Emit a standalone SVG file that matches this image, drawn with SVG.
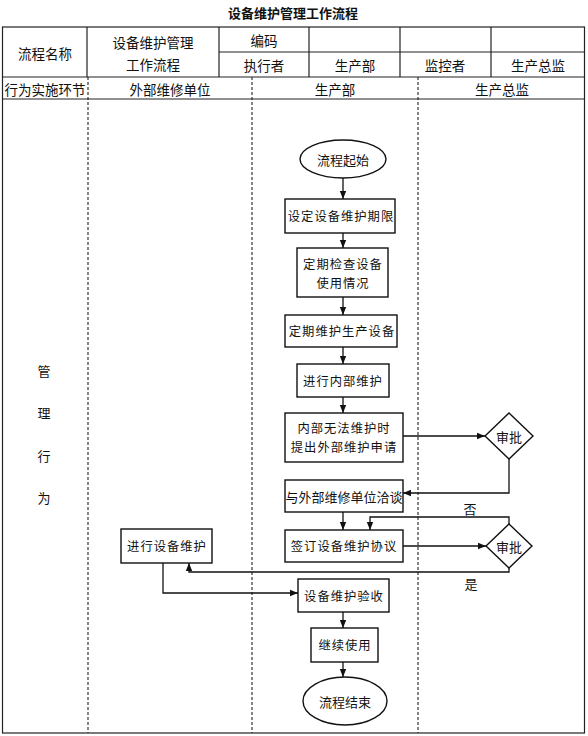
<svg xmlns="http://www.w3.org/2000/svg" width="588" height="736" viewBox="0 0 588 736">
<style>
text{font-family:"Noto Sans CJK SC","Liberation Sans",sans-serif;font-size:13px;fill:#111;text-anchor:middle;dominant-baseline:central}
.t{font-weight:bold;font-size:13px}
.h{font-size:13.5px}
.box{fill:#fff;stroke:#111;stroke-width:1.4}
.grid{stroke:#222;stroke-width:1.2;fill:none}
.dash{stroke:#222;stroke-width:1.1;stroke-dasharray:3 2;fill:none}
.c{stroke:#111;stroke-width:1.3;fill:none}
.sp{letter-spacing:1px;font-size:12.3px}
</style>
<defs>
<marker id="ah" viewBox="0 0 10 10" refX="10" refY="5" markerWidth="9" markerHeight="8" markerUnits="userSpaceOnUse" orient="auto">
<path d="M0,1 L10,5 L0,9 Z" fill="#111"/>
</marker>
</defs>
<rect width="588" height="736" fill="#fff"/>
<g id="frame">
<text class="t" x="293" y="12">设备维护管理工作流程</text>
<rect class="grid" x="2.5" y="27" width="582" height="706" stroke-width="1.8"/>
<line class="grid" x1="2.5" y1="77" x2="584.5" y2="77"/>
<line class="grid" x1="2.5" y1="99" x2="584.5" y2="99"/>
<line class="grid" x1="219" y1="52" x2="584.5" y2="52"/>
<line class="grid" x1="87" y1="27" x2="87" y2="77"/>
<line class="grid" x1="219" y1="27" x2="219" y2="77"/>
<line class="grid" x1="309" y1="27" x2="309" y2="77"/>
<line class="grid" x1="400" y1="27" x2="400" y2="77"/>
<line class="grid" x1="491" y1="27" x2="491" y2="77"/>
<line class="dash" x1="88" y1="77" x2="88" y2="733"/>
<line class="dash" x1="252" y1="77" x2="252" y2="733"/>
<line class="dash" x1="418" y1="77" x2="418" y2="733"/>
<text class="h" x="45" y="53">流程名称</text>
<text class="h" x="153" y="42">设备维护管理</text>
<text class="h" x="153" y="64">工作流程</text>
<text class="h" x="264" y="40">编码</text>
<text class="h" x="264" y="65">执行者</text>
<text class="h" x="355" y="65">生产部</text>
<text class="h" x="445" y="65">监控者</text>
<text class="h" x="538" y="65">生产总监</text>
<text class="h" x="45" y="89">行为实施环节</text>
<text class="h" x="170" y="89">外部维修单位</text>
<text class="h" x="335" y="89">生产部</text>
<text class="h" x="502" y="89">生产总监</text>
<text x="44" y="370">管</text>
<text x="44" y="412">理</text>
<text x="44" y="455">行</text>
<text x="44" y="497">为</text>
</g>
<g id="connectors">
<line class="c" x1="343" y1="178" x2="343" y2="199" marker-end="url(#ah)"/>
<line class="c" x1="343" y1="233" x2="343" y2="248" marker-end="url(#ah)"/>
<line class="c" x1="343" y1="297" x2="343" y2="315" marker-end="url(#ah)"/>
<line class="c" x1="343" y1="347" x2="343" y2="364" marker-end="url(#ah)"/>
<line class="c" x1="343" y1="397" x2="343" y2="413" marker-end="url(#ah)"/>
<line class="c" x1="403" y1="436" x2="485" y2="436" marker-end="url(#ah)"/>
<polyline class="c" points="509,459 509,493 403,493" marker-end="url(#ah)"/>
<line class="c" x1="343" y1="512" x2="343" y2="530" marker-end="url(#ah)"/>
<line class="c" x1="403" y1="546" x2="486" y2="546" marker-end="url(#ah)"/>
<polyline class="c" points="509,524 509,517 370,517 370,530" marker-end="url(#ah)"/>
<polyline class="c" points="509,568 509,572 189,572 189,563" marker-end="url(#ah)"/>
<polyline class="c" points="163,563 163,593 298,593" marker-end="url(#ah)"/>
<line class="c" x1="343" y1="612" x2="343" y2="628" marker-end="url(#ah)"/>
<line class="c" x1="343" y1="662" x2="343" y2="677" marker-end="url(#ah)"/>
<text x="470" y="508">否</text>
<text x="471" y="583">是</text>
</g>
<g id="start">
<ellipse class="box" cx="343" cy="159" rx="43" ry="19"/>
<text x="343" y="159">流程起始</text>
</g>
<g id="setPeriod">
<rect class="box" x="285" y="199" width="110" height="34"/>
<text class="sp" x="341" y="216">设定设备维护期限</text>
</g>
<g id="inspect">
<rect class="box" x="297" y="248" width="91" height="49"/>
<text class="sp" x="343" y="264">定期检查设备</text>
<text class="sp" x="343" y="283">使用情况</text>
</g>
<g id="maintain">
<rect class="box" x="285" y="315" width="112" height="32"/>
<text class="sp" x="342" y="331">定期维护生产设备</text>
</g>
<g id="internal">
<rect class="box" x="297" y="364" width="92" height="33"/>
<text class="sp" x="343" y="381">进行内部维护</text>
</g>
<g id="apply">
<rect class="box" x="285" y="413" width="118" height="49"/>
<text class="sp" x="344" y="428">内部无法维护时</text>
<text class="sp" x="344" y="447">提出外部维护申请</text>
</g>
<g id="approve1">
<polygon class="box" points="509,413 533,436 509,459 485,436"/>
<text x="509" y="436">审批</text>
</g>
<g id="negotiate">
<rect class="box" x="285" y="480" width="118" height="32"/>
<text x="344" y="496">与外部维修单位洽谈</text>
</g>
<g id="sign">
<rect class="box" x="285" y="530" width="118" height="32"/>
<text class="sp" x="344" y="546">签订设备维护协议</text>
</g>
<g id="approve2">
<polygon class="box" points="509,524 532,546 509,568 486,546"/>
<text x="509" y="546">审批</text>
</g>
<g id="extMaintain">
<rect class="box" x="121" y="529" width="91" height="34"/>
<text class="sp" x="167" y="546">进行设备维护</text>
</g>
<g id="acceptance">
<rect class="box" x="298" y="579" width="91" height="33"/>
<text class="sp" x="344" y="596">设备维护验收</text>
</g>
<g id="continue">
<rect class="box" x="311" y="628" width="67" height="34"/>
<text class="sp" x="345" y="645">继续使用</text>
</g>
<g id="end">
<ellipse class="box" cx="345" cy="701" rx="42" ry="24"/>
<text x="345" y="701">流程结束</text>
</g>
</svg>
